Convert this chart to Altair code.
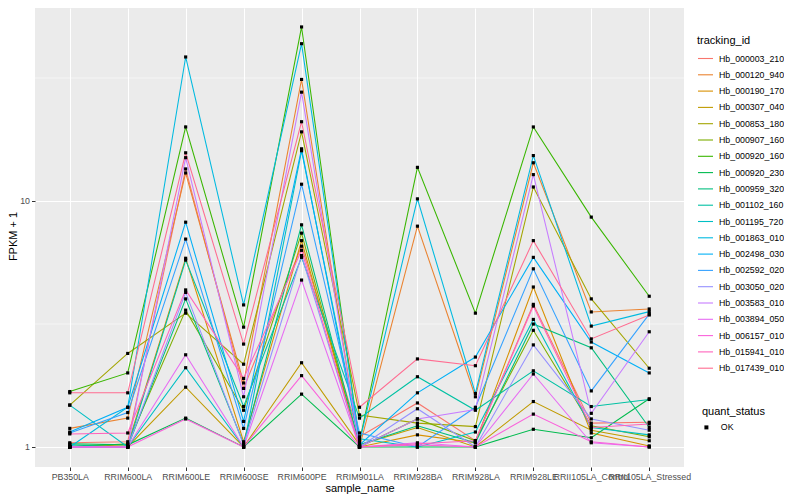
import altair as alt
import pandas as pd

samples = ["PB350LA", "RRIM600LA", "RRIM600LE", "RRIM600SE", "RRIM600PE",
           "RRIM901LA", "RRIM928BA", "RRIM928LA", "RRIM928LE",
           "RRII105LA_Control", "RRII105LA_Stressed"]

tracking_ids = ["Hb_000003_210", "Hb_000120_940", "Hb_000190_170", "Hb_000307_040",
                "Hb_000853_180", "Hb_000907_160", "Hb_000920_160", "Hb_000920_230",
                "Hb_000959_320", "Hb_001102_160", "Hb_001195_720", "Hb_001863_010",
                "Hb_002498_030", "Hb_002592_020", "Hb_003050_020", "Hb_003583_010",
                "Hb_003894_050", "Hb_006157_010", "Hb_015941_010", "Hb_017439_010"]

palette = ["#F8766D", "#EA8331", "#D89000", "#C09B00", "#A3A500", "#7CAE00",
           "#39B600", "#00BB4E", "#00BF7D", "#00C1A3", "#00BFC4", "#00BAE0",
           "#00B0F6", "#35A2FF", "#9590FF", "#C77CFF", "#E76BF3", "#FA62DB",
           "#FF62BC", "#FF6C91"]

# FPKM + 1 values, one list per tracking_id, in sample order
hb_000003_210 = [1.04, 1.05, 13.5, 1.73, 6.55, 1.10, 1.51, 1.06, 3.8, 1.25, 1.26]
hb_000120_940 = [1.19, 1.31, 13.0, 1.82, 31.2, 1.00, 7.9, 1.60, 14.3, 3.54, 3.64]
hb_000190_170 = [1.00, 1.02, 5.85, 1.05, 6.9, 1.00, 1.12, 1.04, 4.47, 1.14, 1.01]
hb_000307_040 = [1.00, 1.00, 1.75, 1.00, 2.2, 1.02, 1.20, 1.00, 1.53, 1.17, 1.06]
hb_000853_180 = [1.48, 2.40, 3.5, 2.17, 19.1, 1.35, 1.25, 1.21, 11.4, 4.0, 2.09]
hb_000907_160 = [1.00, 1.03, 3.6, 1.41, 7.4, 1.00, 1.30, 1.06, 2.98, 1.22, 1.10]
hb_000920_160 = [1.68, 2.00, 20.0, 3.07, 51.0, 1.05, 13.7, 3.50, 20.0, 8.6, 4.10]
hb_000920_230 = [1.03, 1.02, 1.31, 1.00, 1.64, 1.00, 1.00, 1.00, 1.18, 1.09, 1.57]
hb_000959_320 = [1.02, 1.00, 4.0, 1.03, 8.0, 1.02, 1.22, 1.04, 3.16, 2.53, 1.20]
hb_001102_160 = [1.00, 1.00, 5.75, 1.46, 5.9, 1.31, 1.93, 1.41, 2.04, 1.46, 1.56]
hb_001195_720 = [1.48, 1.00, 2.1, 1.00, 16.0, 1.08, 1.00, 1.15, 3.3, 1.20, 1.12]
hb_001863_010 = [1.00, 1.45, 38.5, 3.78, 43.6, 1.05, 10.2, 1.65, 15.3, 3.10, 3.55]
hb_002498_030 = [1.15, 1.45, 8.2, 1.27, 16.3, 1.02, 1.66, 2.32, 5.9, 2.67, 2.00]
hb_002592_020 = [1.14, 1.38, 7.0, 1.19, 11.7, 1.14, 1.00, 1.45, 5.3, 1.69, 3.47]
hb_003050_020 = [1.00, 1.00, 4.25, 1.02, 6.0, 1.00, 1.43, 1.00, 2.6, 1.30, 1.17]
hb_003583_010 = [1.00, 1.00, 15.0, 1.60, 27.7, 1.00, 1.30, 1.42, 12.8, 1.37, 2.94]
hb_003894_050 = [1.00, 1.00, 2.37, 1.00, 4.77, 1.00, 1.04, 1.00, 1.98, 1.04, 1.00]
hb_006157_010 = [1.00, 1.00, 1.30, 1.00, 1.95, 1.00, 1.02, 1.00, 1.36, 1.05, 1.00]
hb_015941_010 = [1.13, 1.14, 4.35, 1.90, 6.3, 1.00, 1.03, 1.06, 3.74, 1.20, 1.24]
hb_017439_010 = [1.66, 1.66, 15.7, 2.62, 21.0, 1.45, 2.28, 2.14, 6.9, 2.75, 3.44]

series = [hb_000003_210, hb_000120_940, hb_000190_170, hb_000307_040, hb_000853_180,
          hb_000907_160, hb_000920_160, hb_000920_230, hb_000959_320, hb_001102_160,
          hb_001195_720, hb_001863_010, hb_002498_030, hb_002592_020, hb_003050_020,
          hb_003583_010, hb_003894_050, hb_006157_010, hb_015941_010, hb_017439_010]

y_major = [1, 10]
y_minor = [3.1623, 31.623]

rows = []
for tid, vals in zip(tracking_ids, series):
    for i, (s, v) in enumerate(zip(samples, vals)):
        rows.append({"tracking_id": tid, "sample_name": s, "idx": i, "fpkm": v,
                     "quant_status": "OK"})
df = pd.DataFrame(rows)

PLOT_W, PLOT_H = 649, 459

yscale = alt.Scale(type="log", domain=[0.829, 60.9], nice=False, zero=False)
xscale = alt.Scale(type="point", padding=0.6, domain=samples)

x_axis = alt.Axis(title="sample_name", labelAngle=0, labelOverlap=False, labelBound=False,
                  labelFlush=False, labelFontSize=8.8, labelColor="#4D4D4D",
                  labelPadding=2, tickSize=3.5, tickColor="#333333", tickWidth=1,
                  domain=False, grid=True, gridColor="white", gridWidth=1.07,
                  titleFontSize=11, titleFontWeight="normal", titleColor="black",
                  titleX=PLOT_W / 2, titleY=21, titleBaseline="middle", titleAlign="center")
y_axis = alt.Axis(title="FPKM + 1", values=y_major, format="d", labelFontSize=8.8,
                  labelColor="#4D4D4D", labelPadding=2, tickSize=3.5, tickColor="#333333",
                  tickWidth=1, domain=False, grid=True, gridColor="white", gridWidth=1.07,
                  titleFontSize=11, titleFontWeight="normal", titleColor="black",
                  titleAngle=270, titleX=-22, titleY=228, titleBaseline="middle",
                  titleAlign="center")

minor = alt.Chart(pd.DataFrame({"fpkm": y_minor})).mark_rule(
    color="white", strokeWidth=0.55
).encode(y=alt.Y("fpkm:Q", scale=yscale, axis=y_axis))

lines = alt.Chart(df).mark_line(strokeWidth=1.07).encode(
    x=alt.X("sample_name:N", scale=xscale, sort=samples, axis=x_axis),
    y=alt.Y("fpkm:Q", scale=yscale, axis=y_axis),
    color=alt.Color("tracking_id:N",
                    scale=alt.Scale(domain=tracking_ids, range=palette),
                    legend=alt.Legend(title="tracking_id", orient="none",
                                      legendX=662, legendY=27, symbolType="stroke",
                                      symbolSize=225, symbolStrokeWidth=1.1,
                                      labelFontSize=8.8, labelColor="black",
                                      titleFontSize=11, titleFontWeight="normal",
                                      titleColor="black", rowPadding=2.3,
                                      titlePadding=4, labelOffset=5, padding=0,
                                      offset=0)),
    order=alt.Order("idx:Q"),
)

points = alt.Chart(df).mark_point(filled=True, color="black", size=10, opacity=1).encode(
    x=alt.X("sample_name:N", scale=xscale, sort=samples, axis=x_axis),
    y=alt.Y("fpkm:Q", scale=yscale, axis=y_axis),
    shape=alt.Shape("quant_status:N",
                    scale=alt.Scale(domain=["OK"], range=["square"]),
                    legend=alt.Legend(title="quant_status", orient="none",
                                      legendX=667, legendY=398, symbolSize=16,
                                      symbolFillColor="black", symbolStrokeColor="black",
                                      labelFontSize=8.8, labelColor="black",
                                      titleFontSize=11, titleFontWeight="normal",
                                      titleColor="black", titlePadding=6,
                                      labelOffset=10, padding=0, offset=0)),
)

chart = alt.layer(minor, lines, points).properties(
    width=PLOT_W, height=PLOT_H,
    padding={"left": 27, "top": 0, "right": 100, "bottom": 30},
    autosize=alt.AutoSizeParams(type="none"),
).configure(font="Liberation Sans").configure_view(fill="#EBEBEB", stroke=None)

chart.save("out.html", embed_options={"renderer": "svg", "actions": False})
